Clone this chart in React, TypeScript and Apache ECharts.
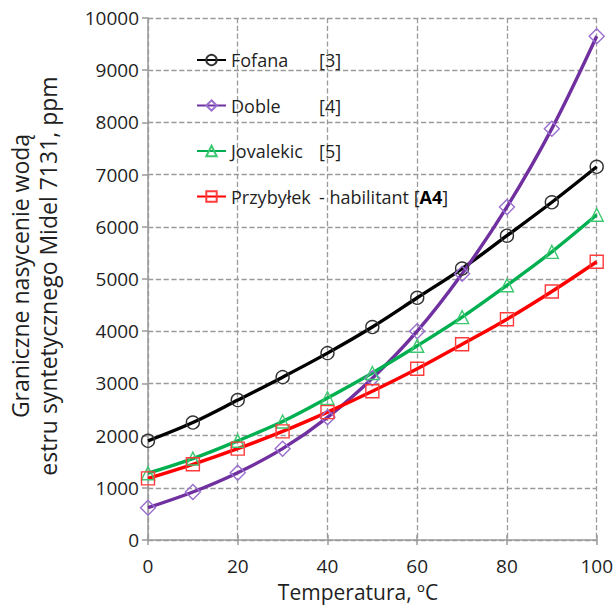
import React, { useEffect, useRef } from "react";
import * as echarts from "echarts";

// Temperatura, ºC
const temperatures = [0, 10, 20, 30, 40, 50, 60, 70, 80, 90, 100];

// Graniczne nasycenie wodą, ppm
const fofana = [1900, 2250, 2680, 3120, 3580, 4080, 4640, 5200, 5830, 6470, 7150];
const doble = [620, 920, 1290, 1750, 2350, 3100, 4000, 5100, 6380, 7880, 9650];
const jovalekic = [1280, 1560, 1900, 2270, 2720, 3200, 3720, 4270, 4880, 5520, 6230];
const przybylek = [1180, 1450, 1750, 2080, 2450, 2850, 3280, 3750, 4230, 4760, 5330];

const seriesNames = ["Fofana", "Doble", "Jovalekic", "Przybyłek"];
const references = ["[3]", "[4]", "[5]", ""];

const FONT = "'Open Sans', 'DejaVu Sans', sans-serif";
const TEXT = "#1f1f1f";
const AXIS = "#9a9a9a";

function pairs(values: number[]) {
  return temperatures.map((t, i) => [t, values[i]]);
}

function makeSeries(
  name: string,
  values: number[],
  lineColor: string,
  markColor: string,
  symbol: string,
  symbolSize: number
) {
  return {
    name,
    type: "line",
    xAxisIndex: 0,
    data: pairs(values),
    smooth: 0.35,
    symbol,
    symbolSize,
    showAllSymbol: true,
    lineStyle: { color: lineColor, width: 3.4 },
    itemStyle: { color: "transparent", borderColor: markColor, borderWidth: 1.4 },
    emphasis: { disabled: true },
  };
}

export default function App() {
  const ref = useRef<HTMLDivElement>(null);

  useEffect(() => {
    if (!ref.current) return;
    const chart = echarts.init(ref.current, null, { renderer: "svg" });

    const xBase = {
      type: "value",
      min: 0,
      max: 100,
      interval: 20,
      position: "bottom",
    };

    chart.setOption({
      animation: false,
      backgroundColor: "#ffffff",
      grid: { left: 148, right: 19, top: 18, bottom: 68, containLabel: false },
      legend: {
        left: 191,
        top: 46,
        padding: 5,
        orient: "vertical",
        itemGap: 27.5,
        itemWidth: 29,
        itemHeight: 13,
        data: seriesNames,
        selectedMode: false,
        textStyle: {
          fontFamily: FONT,
          fontSize: 18,
          color: TEXT,
          rich: {
            n: { fontFamily: FONT, fontSize: 18, color: TEXT, width: 88 },
            r: { fontFamily: FONT, fontSize: 18, color: TEXT },
            b: { fontFamily: FONT, fontSize: 18, color: "#000", fontWeight: "bold" },
          },
        },
        formatter: (name: string) => {
          const i = seriesNames.indexOf(name);
          if (name === "Przybyłek") {
            return `{n|${name}}{r|- habilitant [}{b|A4}{r|]}`;
          }
          return `{n|${name}}{r|${references[i]}}`;
        },
      },
      xAxis: [
        {
          ...xBase,
          axisLine: { show: true, lineStyle: { color: AXIS, width: 1.5 } },
          axisTick: { show: true, inside: false, length: 5, lineStyle: { color: AXIS, width: 1.5 } },
          axisLabel: { fontFamily: FONT, fontSize: 19, color: TEXT, margin: 16 },
          splitLine: { show: true, lineStyle: { color: AXIS, width: 1.3, type: "dashed" } },
        },
        {
          ...xBase,
          axisLine: { show: false },
          axisTick: { show: true, inside: true, length: 5, lineStyle: { color: AXIS, width: 1.5 } },
          axisLabel: { show: false },
          splitLine: { show: false },
        },
      ],
      yAxis: {
        type: "value",
        min: 0,
        max: 10000,
        interval: 1000,
        axisLine: { show: true, lineStyle: { color: AXIS, width: 1.5 } },
        axisTick: { show: true, length: 6, lineStyle: { color: AXIS, width: 1.5 } },
        axisLabel: {
          fontFamily: FONT,
          fontSize: 19,
          color: TEXT,
          margin: 9,
          formatter: (v: number) => String(v),
        },
        splitLine: { show: true, lineStyle: { color: AXIS, width: 1.3, type: "dashed" } },
      },
      graphic: [
        {
          type: "text",
          x: 34,
          y: 276,
          rotation: Math.PI / 2,
          style: {
            text: "Graniczne nasycenie wodą\nestru syntetycznego Midel 7131, ppm",
            font: `23px ${FONT}`,
            fill: TEXT,
            align: "center",
            verticalAlign: "middle",
            lineHeight: 28,
          },
        },
        {
          type: "text",
          x: 358,
          y: 592,
          style: {
            text: "Temperatura, ºC",
            font: `21px ${FONT}`,
            fill: TEXT,
            align: "center",
            verticalAlign: "middle",
          },
        },
      ],
      series: [
        makeSeries("Fofana", fofana, "#000000", "#333333", "circle", 13),
        makeSeries("Doble", doble, "#7030a0", "#9a6fd0", "diamond", 15),
        makeSeries("Jovalekic", jovalekic, "#00b050", "#3cc870", "triangle", 13),
        makeSeries("Przybyłek", przybylek, "#ff0000", "#ff3b3b", "rect", 13),
      ],
    });

    return () => chart.dispose();
  }, []);

  return (
    <div
      ref={ref}
      style={{ position: "fixed", left: 0, top: 0, width: 616, height: 608 }}
    />
  );
}
